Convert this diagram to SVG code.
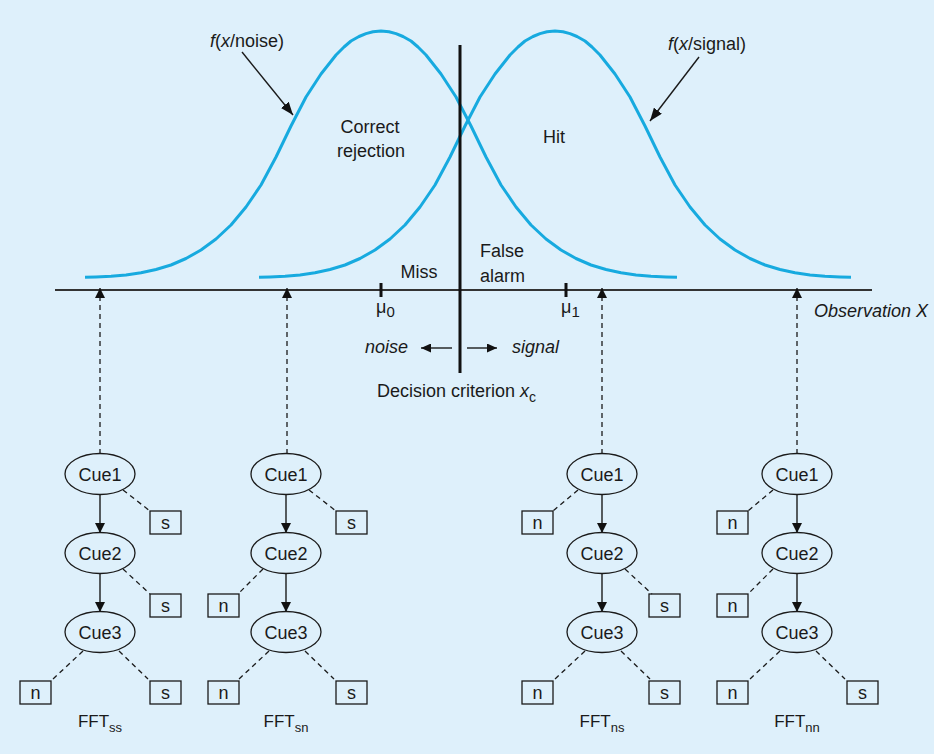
<svg xmlns="http://www.w3.org/2000/svg" width="934" height="754" viewBox="0 0 934 754">
<style>
text{font-family:"Liberation Sans",Arial,sans-serif;font-size:18px;fill:#1a1a1a}
.it{font-style:italic}
.curve{fill:none;stroke:#17aadf;stroke-width:3;stroke-linejoin:round;stroke-linecap:butt}
.el{fill:none;stroke:#1a1a1a;stroke-width:1.3}
.box{fill:none;stroke:#1a1a1a;stroke-width:1.3}
.dash{fill:none;stroke:#1a1a1a;stroke-width:1.3;stroke-dasharray:5,4}
.sol{fill:none;stroke:#1a1a1a;stroke-width:1.4}
.c{text-anchor:middle}
.fft{font-size:17px}
.sub{font-size:13px}
</style>
<defs>
<marker id="ah" markerWidth="10" markerHeight="10" refX="10" refY="5" orient="auto" markerUnits="userSpaceOnUse"><path d="M0,0 L10,5 L0,10 z" fill="#111"/></marker>
<marker id="ahL" markerWidth="13" markerHeight="10" refX="13" refY="5" orient="auto" markerUnits="userSpaceOnUse"><path d="M0,0 L13,5 L0,10 z" fill="#111"/></marker>
<marker id="ahS" markerWidth="10" markerHeight="9" refX="10" refY="4.5" orient="auto" markerUnits="userSpaceOnUse"><path d="M0,0 L10,4.5 L0,9 z" fill="#111"/></marker>
</defs>
<rect x="0" y="0" width="934" height="754" fill="#def0fb"/>

<g id="curves">
<path class="curve" d="M85,277.3 L96,277 L111,276.3 L126,275 L141,272.8 L156,269.5 L171,265 L186,258.5 L201,250 L216,239 L231,225 L246,207 L261,185 L276,157 L291,126 L306,97 L321,74 L336,55 L344,47 L351,41 L359,36.5 L366,33.6 L373,31.8 L381,31 L389,31.8 L396,33.6 L403,36.5 L411,41 L418,47 L426,55 L441,74 L456,97 L471,126 L486,157 L501,185 L516,207 L531,225 L546,239 L561,250 L576,258.5 L591,265 L606,269.5 L621,272.8 L636,275 L651,276.3 L666,277 L677,277.3"/>
<path class="curve" d="M259,277.3 L270,277 L285,276.3 L300,275 L315,272.8 L330,269.5 L345,265 L360,258.5 L375,250 L390,239 L405,225 L420,207 L435,185 L450,157 L465,126 L480,97 L495,74 L510,55 L518,47 L525,41 L533,36.5 L540,33.6 L547,31.8 L555,31 L563,31.8 L570,33.6 L577,36.5 L585,41 L592,47 L600,55 L615,74 L630,97 L645,126 L660,157 L675,185 L690,207 L705,225 L720,239 L735,250 L750,258.5 L765,265 L780,269.5 L795,272.8 L810,275 L825,276.3 L840,277 L851,277.3"/>
</g>

<g id="axis">
<line x1="55" y1="290" x2="872" y2="290" stroke="#333" stroke-width="2"/>
<line x1="381" y1="283" x2="381" y2="297" stroke="#111" stroke-width="3"/>
<line x1="566" y1="283" x2="566" y2="297" stroke="#111" stroke-width="3"/>
<line x1="460" y1="45" x2="460" y2="373" stroke="#111" stroke-width="3"/>
</g>

<g id="labels">
<text x="210" y="47"><tspan class="it">f</tspan>(<tspan class="it">x</tspan>/noise)</text>
<text x="668" y="50"><tspan class="it">f</tspan>(<tspan class="it">x</tspan>/signal)</text>
<text class="c" x="370" y="133">Correct</text>
<text class="c" x="371" y="157">rejection</text>
<text class="c" x="554" y="143">Hit</text>
<text class="c" x="419" y="278">Miss</text>
<text x="480" y="257">False</text>
<text x="480" y="282">alarm</text>
<text x="376" y="313" font-size="19">μ<tspan font-size="15" dy="4">0</tspan></text>
<text x="561" y="313" font-size="19">μ<tspan font-size="15" dy="4">1</tspan></text>
<text class="it" x="365" y="353">noise</text>
<text class="it" x="512" y="353">signal</text>
<text x="377" y="397" font-size="18.5">Decision criterion <tspan class="it">x</tspan><tspan font-size="14" dy="5">c</tspan></text>
<text class="it" x="928" y="317" text-anchor="end">Observation X</text>
</g>

<g id="connectors">
<line class="sol" x1="242" y1="52" x2="293" y2="115" marker-end="url(#ahL)"/>
<line class="sol" x1="699" y1="57" x2="650" y2="121" marker-end="url(#ahL)"/>
<line class="sol" x1="452" y1="348" x2="421" y2="348" marker-end="url(#ahS)"/>
<line class="sol" x1="467" y1="348" x2="497" y2="348" marker-end="url(#ahS)"/>
<line class="dash" x1="100" y1="454" x2="100" y2="288" marker-end="url(#ah)"/>
<line class="dash" x1="287" y1="454" x2="287" y2="288" marker-end="url(#ah)"/>
<line class="dash" x1="602" y1="454" x2="602" y2="288" marker-end="url(#ah)"/>
<line class="dash" x1="797" y1="454" x2="797" y2="288" marker-end="url(#ah)"/>
<line class="sol" x1="100" y1="494" x2="100" y2="533" marker-end="url(#ah)"/>
<line class="sol" x1="100" y1="573" x2="100" y2="612" marker-end="url(#ah)"/>
<line class="dash" x1="123" y1="490" x2="150" y2="511"/>
<line class="dash" x1="123" y1="569" x2="150" y2="594"/>
<line class="dash" x1="83" y1="651" x2="53" y2="679"/>
<line class="dash" x1="119" y1="651" x2="148" y2="679"/>
<line class="sol" x1="286" y1="494" x2="286" y2="533" marker-end="url(#ah)"/>
<line class="sol" x1="286" y1="573" x2="286" y2="612" marker-end="url(#ah)"/>
<line class="dash" x1="309" y1="490" x2="336" y2="511"/>
<line class="dash" x1="263" y1="569" x2="238" y2="594"/>
<line class="dash" x1="269" y1="651" x2="239" y2="679"/>
<line class="dash" x1="305" y1="651" x2="334" y2="679"/>
<line class="sol" x1="602" y1="494" x2="602" y2="533" marker-end="url(#ah)"/>
<line class="sol" x1="602" y1="573" x2="602" y2="612" marker-end="url(#ah)"/>
<line class="dash" x1="578" y1="490" x2="553" y2="511"/>
<line class="dash" x1="625" y1="569" x2="652" y2="594"/>
<line class="dash" x1="585" y1="651" x2="555" y2="679"/>
<line class="dash" x1="621" y1="651" x2="650" y2="679"/>
<line class="sol" x1="797" y1="494" x2="797" y2="533" marker-end="url(#ah)"/>
<line class="sol" x1="797" y1="573" x2="797" y2="612" marker-end="url(#ah)"/>
<line class="dash" x1="773" y1="490" x2="748" y2="511"/>
<line class="dash" x1="773" y1="569" x2="748" y2="594"/>
<line class="dash" x1="780" y1="651" x2="750" y2="679"/>
<line class="dash" x1="816" y1="651" x2="845" y2="679"/>
</g>

<g id="tree-ss">
<g id="ss-cue1"><ellipse class="el" cx="100" cy="474" rx="35" ry="20.5"/><text class="c" x="100" y="481">Cue1</text></g>
<g id="ss-cue2"><ellipse class="el" cx="100" cy="553" rx="35" ry="20.5"/><text class="c" x="100" y="560">Cue2</text></g>
<g id="ss-cue3"><ellipse class="el" cx="100" cy="632" rx="35" ry="20.5"/><text class="c" x="100" y="639">Cue3</text></g>
<g id="ss-s1"><rect class="box" x="150" y="511" width="31" height="23"/><text class="c" x="165.5" y="529">s</text></g>
<g id="ss-s2"><rect class="box" x="150" y="594" width="31" height="23"/><text class="c" x="165.5" y="612">s</text></g>
<g id="ss-n3"><rect class="box" x="20" y="681" width="31" height="23"/><text class="c" x="35.5" y="699">n</text></g>
<g id="ss-s3"><rect class="box" x="150" y="681" width="31" height="23"/><text class="c" x="165.5" y="699">s</text></g>
<text class="c fft" x="100" y="727">FFT<tspan class="sub" dy="5">ss</tspan></text>
</g>

<g id="tree-sn">
<g id="sn-cue1"><ellipse class="el" cx="286" cy="474" rx="35" ry="20.5"/><text class="c" x="286" y="481">Cue1</text></g>
<g id="sn-cue2"><ellipse class="el" cx="286" cy="553" rx="35" ry="20.5"/><text class="c" x="286" y="560">Cue2</text></g>
<g id="sn-cue3"><ellipse class="el" cx="286" cy="632" rx="35" ry="20.5"/><text class="c" x="286" y="639">Cue3</text></g>
<g id="sn-s1"><rect class="box" x="336" y="511" width="31" height="23"/><text class="c" x="351.5" y="529">s</text></g>
<g id="sn-n2"><rect class="box" x="208" y="594" width="31" height="23"/><text class="c" x="223.5" y="612">n</text></g>
<g id="sn-n3"><rect class="box" x="208" y="681" width="31" height="23"/><text class="c" x="223.5" y="699">n</text></g>
<g id="sn-s3"><rect class="box" x="336" y="681" width="31" height="23"/><text class="c" x="351.5" y="699">s</text></g>
<text class="c fft" x="286" y="727">FFT<tspan class="sub" dy="5">sn</tspan></text>
</g>

<g id="tree-ns">
<g id="ns-cue1"><ellipse class="el" cx="602" cy="474" rx="35" ry="20.5"/><text class="c" x="602" y="481">Cue1</text></g>
<g id="ns-cue2"><ellipse class="el" cx="602" cy="553" rx="35" ry="20.5"/><text class="c" x="602" y="560">Cue2</text></g>
<g id="ns-cue3"><ellipse class="el" cx="602" cy="632" rx="35" ry="20.5"/><text class="c" x="602" y="639">Cue3</text></g>
<g id="ns-n1"><rect class="box" x="522" y="511" width="31" height="23"/><text class="c" x="537.5" y="529">n</text></g>
<g id="ns-s2"><rect class="box" x="649" y="594" width="31" height="23"/><text class="c" x="664.5" y="612">s</text></g>
<g id="ns-n3"><rect class="box" x="522" y="681" width="31" height="23"/><text class="c" x="537.5" y="699">n</text></g>
<g id="ns-s3"><rect class="box" x="649" y="681" width="31" height="23"/><text class="c" x="664.5" y="699">s</text></g>
<text class="c fft" x="602" y="727">FFT<tspan class="sub" dy="5">ns</tspan></text>
</g>

<g id="tree-nn">
<g id="nn-cue1"><ellipse class="el" cx="797" cy="474" rx="35" ry="20.5"/><text class="c" x="797" y="481">Cue1</text></g>
<g id="nn-cue2"><ellipse class="el" cx="797" cy="553" rx="35" ry="20.5"/><text class="c" x="797" y="560">Cue2</text></g>
<g id="nn-cue3"><ellipse class="el" cx="797" cy="632" rx="35" ry="20.5"/><text class="c" x="797" y="639">Cue3</text></g>
<g id="nn-n1"><rect class="box" x="717" y="511" width="31" height="23"/><text class="c" x="732.5" y="529">n</text></g>
<g id="nn-n2"><rect class="box" x="717" y="594" width="31" height="23"/><text class="c" x="732.5" y="612">n</text></g>
<g id="nn-n3"><rect class="box" x="717" y="681" width="31" height="23"/><text class="c" x="732.5" y="699">n</text></g>
<g id="nn-s3"><rect class="box" x="847" y="681" width="31" height="23"/><text class="c" x="862.5" y="699">s</text></g>
<text class="c fft" x="797" y="727">FFT<tspan class="sub" dy="5">nn</tspan></text>
</g>
</svg>
